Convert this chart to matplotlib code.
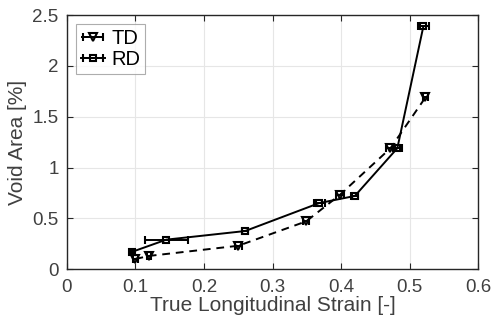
import numpy as np
import matplotlib
matplotlib.use("Agg")
import matplotlib.pyplot as plt

plt.rcParams['font.family'] = ['Liberation Sans', 'DejaVu Sans']

# TD series
td_x = [0.100, 0.120, 0.250, 0.349, 0.398, 0.472, 0.523]
td_y = [0.10, 0.13, 0.23, 0.47, 0.73, 1.19, 1.69]
td_xerr = [0.003, 0.003, 0.005, 0.004, 0.006, 0.006, 0.004]

# RD series
rd_x = [0.095, 0.145, 0.260, 0.368, 0.420, 0.482, 0.520]
rd_y = [0.17, 0.29, 0.375, 0.65, 0.72, 1.19, 2.39]
rd_xerr = [0.002, 0.031, 0.004, 0.008, 0.005, 0.007, 0.008]

fig = plt.figure(figsize=(4.92, 3.29), dpi=100)
ax = fig.add_axes([0.136, 0.182, 0.836, 0.772])

ec = '#262626'
ax.errorbar(td_x, td_y, xerr=td_xerr, fmt='v', ls='--', color='k', mfc='none',
            mec='k', ms=5.5, mew=1.5, lw=1.4, capsize=3, elinewidth=1.4,
            dashes=(4, 3), label='TD')
ax.errorbar(rd_x, rd_y, xerr=rd_xerr, fmt='s', ls='-', color='k', mfc='none',
            mec='k', ms=5, mew=1.5, lw=1.4, capsize=3, elinewidth=1.4,
            label='RD')

ax.set_xlim(0, 0.6)
ax.set_ylim(0, 2.5)
ax.set_xticks(np.arange(0, 0.61, 0.1))
ax.set_xticklabels(['0', '0.1', '0.2', '0.3', '0.4', '0.5', '0.6'])
ax.set_yticks([0, 0.5, 1, 1.5, 2, 2.5])
ax.set_yticklabels(['0', '0.5', '1', '1.5', '2', '2.5'])
ax.grid(True, color='#e6e6e6', lw=0.8)
ax.set_axisbelow(True)
for s in ax.spines.values():
    s.set_color(ec)
    s.set_linewidth(1.0)
ax.tick_params(direction='in', length=4, colors=ec, labelsize=13.5,
               labelcolor='#404040', top=True, right=True)
ax.tick_params(axis='x', pad=7)
ax.tick_params(axis='y', pad=6)
ax.set_xlabel('True Longitudinal Strain [-]', fontsize=15, color='#404040',
              labelpad=0)
ax.set_ylabel('Void Area [%]', fontsize=15, color='#404040', labelpad=4)

leg = ax.legend(loc='upper left', fontsize=14.5, frameon=True, fancybox=False,
                edgecolor='#999999', handlelength=1.2, borderaxespad=0.45,
                handletextpad=0.3, labelspacing=0.1, borderpad=0.25)
leg.get_frame().set_linewidth(0.8)

fig.savefig('out.png', dpi=100)
